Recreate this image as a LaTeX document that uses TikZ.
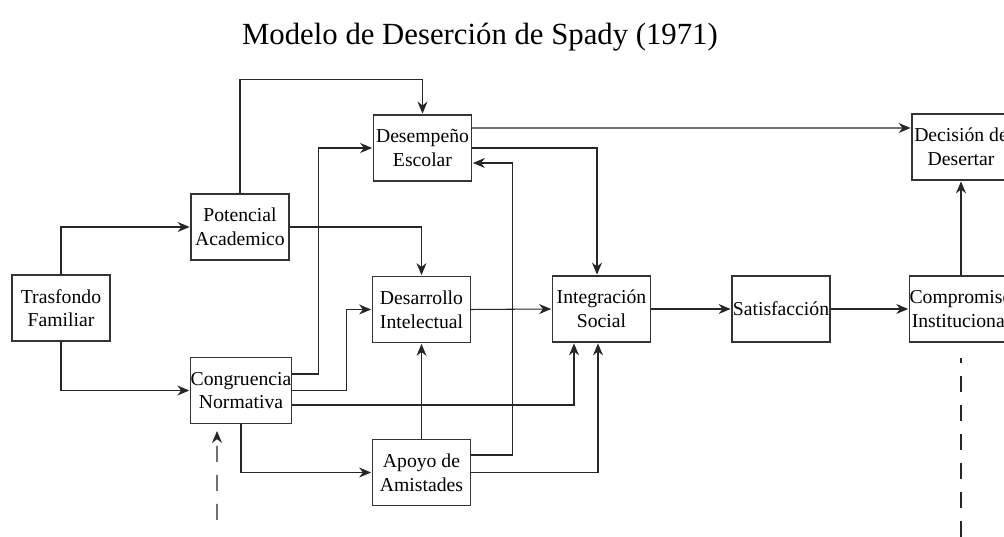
\documentclass[tikz,border=0pt]{standalone}
\usepackage{fontspec}
\setmainfont{Liberation Serif}
\usetikzlibrary{%
  arrows.meta,%
  calc%
}
\tikzset{>={Stealth[length=2.4mm,width=2mm]}}
\tikzset{
  caja/.style={draw=black!80,line width=0.6pt,minimum width=1.96cm,minimum height=1.32cm,
    inner xsep=0pt,inner ysep=1pt,align=center,font=\fontsize{11.2}{13.4}\selectfont},
  flecha/.style={->,line width=0.6pt,draw=black!85,shorten >=0.5pt},
  externo/.style={line width=0.6pt,draw=black!85,dash pattern=on 0.32cm off 0.26cm}
}

\begin{document}
\begin{tikzpicture}
    \useasboundingbox (0cm,0cm) rectangle (20.08cm,10.74cm);
    \clip (0cm,0cm) rectangle (20.08cm,10.74cm);

    \node (titulo) at (9.60cm,10.00cm) {\fontsize{17.5}{21}\selectfont Modelo de Deserción de Spady (1971)};

    \node[caja] (trasfondo) at (1.22cm,4.58cm) {Trasfondo\\ Familiar};
    \node[caja] (potencial) at (4.80cm,6.20cm) {Potencial\\ Academico};
    \node[caja] (congruencia) at (4.82cm,2.93cm) {Congruencia\\ Normativa};
    \node[caja] (desempeno) at (8.45cm,7.78cm) {Desempeño\\ Escolar};
    \node[caja] (desarrollo) at (8.43cm,4.55cm) {Desarrollo\\ Intelectual};
    \node[caja] (apoyo) at (8.43cm,1.29cm) {Apoyo de\\ Amistades};
    \node[caja] (integracion) at (12.03cm,4.56cm) {Integración\\ Social};
    \node[caja] (satisfaccion) at (15.62cm,4.56cm) {Satisfacción};
    \node[caja] (compromiso) at (19.22cm,4.56cm) {Compromiso\\ Institucional};
    \node[caja] (decision) at (19.22cm,7.80cm) {Decisión de\\ Desertar};

    \coordinate (extcongruencia) at (4.34cm,0.34cm);
    \coordinate (extcompromiso) at (19.22cm,0cm);

    \draw[flecha] (trasfondo.north) |- (potencial.west);
    \draw[flecha] (trasfondo.south) |- (congruencia.west);

    \draw[flecha] (potencial.north) -- ++(0cm,2.28cm) -| (desempeno.north);
    \draw[flecha] (potencial.east) -| (desarrollo.north);

    \draw[flecha] ([yshift=0.33cm]congruencia.east) -- ++(0.54cm,0cm) |- (desempeno.west);
    \draw[flecha] (congruencia.east) -- ++(1.10cm,0cm) |- (desarrollo.west);
    \draw[flecha] ([yshift=-0.29cm]congruencia.east) -| ([xshift=-0.55cm]integracion.south);
    \draw[flecha] (congruencia.south) |- (apoyo.west);

    \draw[flecha] (apoyo.north) -- (desarrollo.south);
    \draw[flecha] ([yshift=0.35cm]apoyo.east) -- ++(0.83cm,0cm) |- ([yshift=-0.30cm]desempeno.east);
    \draw[flecha] (apoyo.east) -| ([xshift=-0.07cm]integracion.south);

    \draw[flecha] (desarrollo.east) -- (integracion.west);
    \draw[flecha] (desempeno.east) -| ([xshift=-0.09cm]integracion.north);
    \draw[flecha] ([yshift=0.40cm]desempeno.east) -- ([yshift=0.38cm]decision.west);

    \draw[flecha] (integracion.east) -- (satisfaccion.west);
    \draw[flecha] (satisfaccion.east) -- (compromiso.west);
    \draw[flecha] (compromiso.north) -- (decision.south);

    \draw[externo,->] (extcongruencia) -- ([xshift=-0.48cm,yshift=-0.14cm]congruencia.south);
    \draw[externo] (extcompromiso) -- ([yshift=-0.30cm]compromiso.south);
\end{tikzpicture}
\end{document}
